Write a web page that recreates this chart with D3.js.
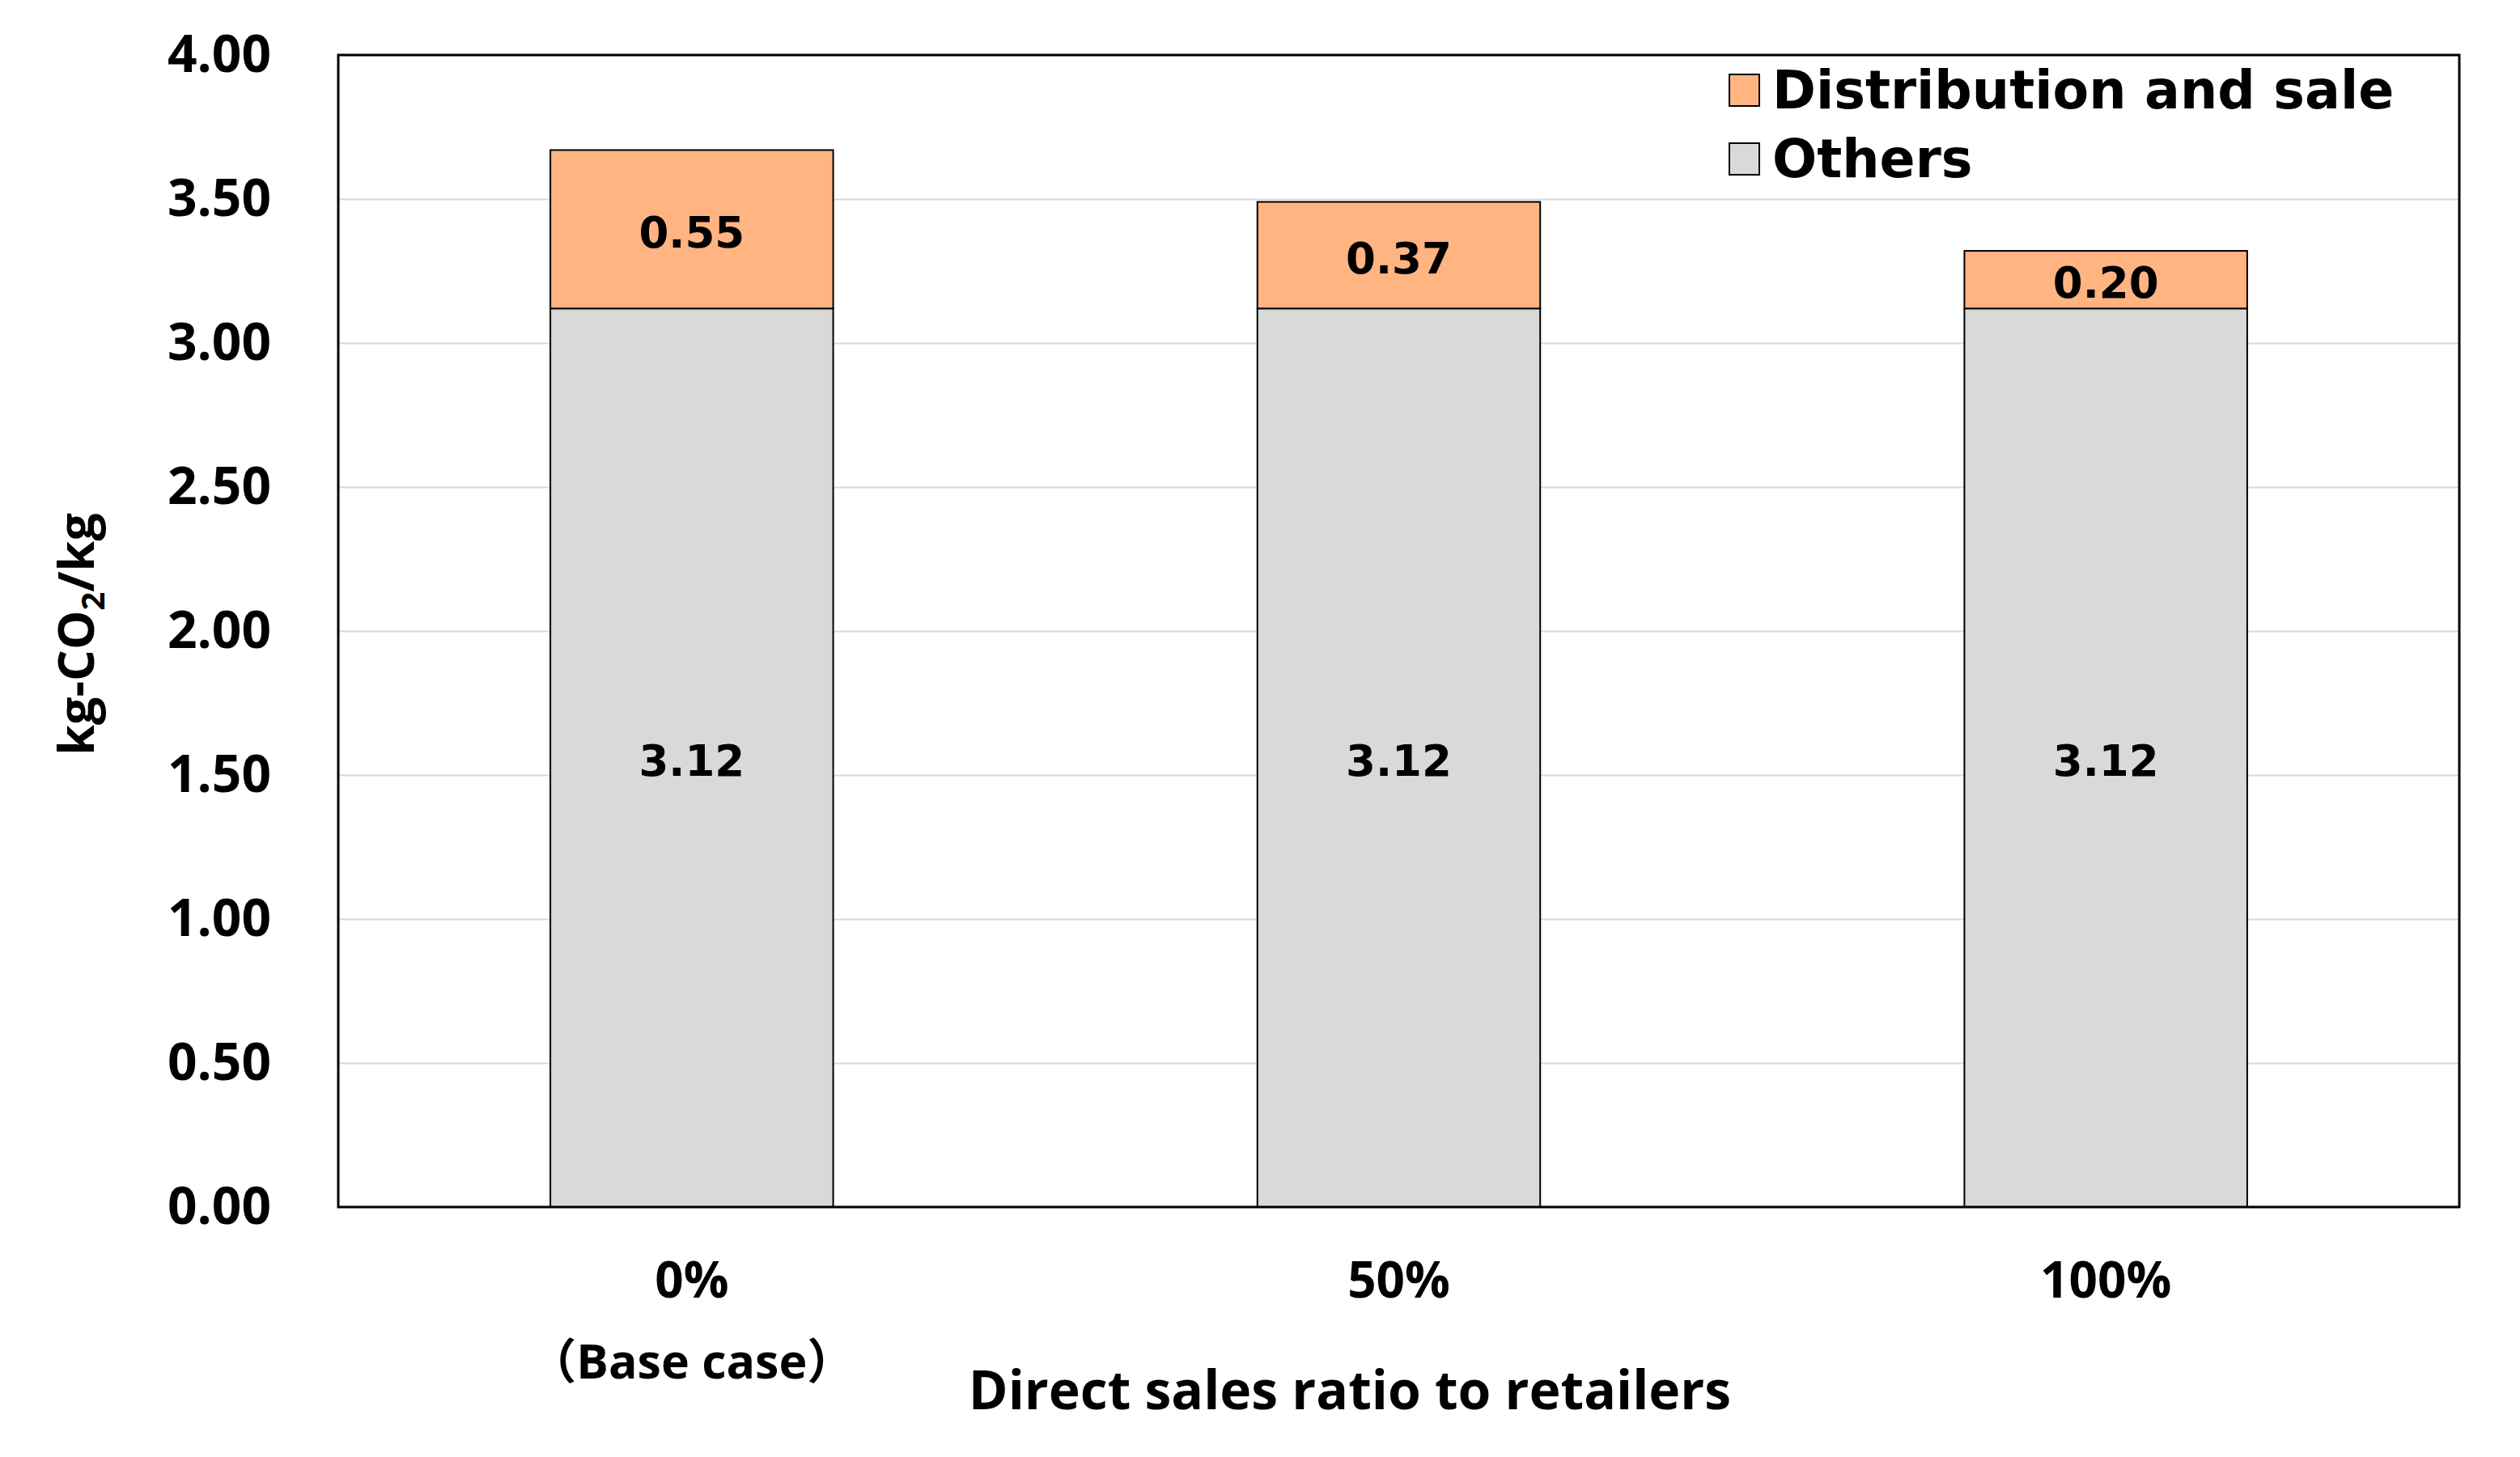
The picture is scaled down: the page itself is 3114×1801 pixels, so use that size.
<!DOCTYPE html>
<html>
<head>
<meta charset="utf-8">
<script src="https://cdn.jsdelivr.net/npm/d3@7"></script>
<style>
  html, body { margin: 0; padding: 0; background: #ffffff; }
  svg { display: block; }
</style>
</head>
<body>
<svg id="chart" width="3114" height="1801"></svg>
<script>
// ---- data ----
const categories = ["0%", "50%", "100%"];
const subLabels = ["（Base case）", "", ""];
const others = [3.12, 3.12, 3.12];
const distribution = [0.55, 0.37, 0.20];
const seriesNames = ["Distribution and sale", "Others"];
const yTicks = [0, 0.5, 1.0, 1.5, 2.0, 2.5, 3.0, 3.5, 4.0];
const xTitle = "Direct sales ratio to retailers";

// ---- layout ----
const W = 3114, H = 1801;
const plot = { left: 418, right: 3039, top: 68, bottom: 1492 };
const colors = { dist: "#FFB482", others: "#D9D9D9" };
const svg = d3.select("#chart");

const x = d3.scaleBand().domain(categories).range([plot.left, plot.right]).paddingInner(0.6).paddingOuter(0.3);
const y = d3.scaleLinear().domain([0, 4]).range([plot.bottom, plot.top]);

// gridlines
svg.append("g")
  .attr("transform", `translate(${plot.left},0)`)
  .call(d3.axisLeft(y).tickValues(yTicks).tickSize(-(plot.right - plot.left)).tickFormat(""))
  .call(g => g.select(".domain").remove())
  .call(g => g.selectAll("line").attr("stroke", "#D9D9D9").attr("stroke-width", 2));

// stacked data
const stackData = categories.map((c, i) => ({ cat: c, others: others[i], dist: distribution[i] }));
const stack = d3.stack().keys(["others", "dist"])(stackData);

const layers = svg.append("g").selectAll("g").data(stack).join("g")
  .attr("fill", d => colors[d.key]);
layers.selectAll("rect").data(d => d).join("rect")
  .attr("x", d => x(d.data.cat))
  .attr("width", x.bandwidth())
  .attr("y", d => y(d[1]))
  .attr("height", d => y(d[0]) - y(d[1]))
  .attr("stroke", "#000")
  .attr("stroke-width", 2);

// value labels
stack.forEach(layer => {
  svg.append("g").selectAll("text").data(layer).join("text")
    .attr("x", d => x(d.data.cat) + x.bandwidth() / 2)
    .attr("y", d => (y(d[0]) + y(d[1])) / 2)
    .attr("dy", "0.42em")
    .attr("text-anchor", "middle")
    .attr("font-family", "'DejaVu Sans', Verdana, sans-serif")
    .attr("font-weight", "bold")
    .attr("font-size", 53)
    .attr("fill", "#000")
    .text(d => (d[1] - d[0]).toFixed(2));
});

// plot frame
svg.append("rect")
  .attr("x", plot.left).attr("y", plot.top)
  .attr("width", plot.right - plot.left).attr("height", plot.bottom - plot.top)
  .attr("fill", "none").attr("stroke", "#000").attr("stroke-width", 3);

// y axis labels
svg.append("g")
  .attr("transform", `translate(${plot.left},0)`)
  .call(d3.axisLeft(y).tickValues(yTicks).tickSize(0).tickPadding(83).tickFormat(d3.format(".2f")))
  .call(g => g.select(".domain").remove())
  .call(g => g.selectAll("text")
    .attr("font-family", "'Open Sans', sans-serif")
    .attr("font-weight", "bold")
    .attr("font-size", 64)
    .attr("fill", "#000"));

// x axis labels
svg.append("g")
  .attr("transform", `translate(0,${plot.bottom})`)
  .call(d3.axisBottom(x).tickSize(0).tickPadding(68))
  .call(g => g.select(".domain").remove())
  .call(g => g.selectAll("text")
    .attr("font-family", "'Open Sans', sans-serif")
    .attr("font-weight", "bold")
    .attr("font-size", 62)
    .attr("fill", "#000"));

// sub labels (Base case)
svg.append("g").selectAll("text").data(categories).join("text")
  .attr("x", d => x(d) + x.bandwidth() / 2)
  .attr("y", 1704)
  .attr("text-anchor", "middle")
  .attr("font-family", "'Open Sans', 'Noto Sans CJK JP', sans-serif")
  .attr("font-weight", "bold")
  .attr("font-size", 59)
  .attr("fill", "#000")
  .text((d, i) => subLabels[i]);

// x title
svg.append("text")
  .attr("x", 1668).attr("y", 1742)
  .attr("text-anchor", "middle")
  .attr("font-family", "'Open Sans', sans-serif")
  .attr("font-weight", "bold")
  .attr("font-size", 66)
  .attr("fill", "#000")
  .text(xTitle);

// y title
const yt = svg.append("text")
  .attr("transform", "translate(116,784) rotate(-90)")
  .attr("text-anchor", "middle")
  .attr("font-family", "'Open Sans', sans-serif")
  .attr("font-weight", "bold")
  .attr("font-size", 61)
  .attr("fill", "#000");
yt.append("tspan").text("kg-CO");
yt.append("tspan").attr("font-size", 40).attr("dy", 13).text("2");
yt.append("tspan").attr("dy", -13).text("/kg");

// legend
const legendItems = [
  { name: seriesNames[0], color: colors.dist, y: 92 },
  { name: seriesNames[1], color: colors.others, y: 177 }
];
const lg = svg.append("g").selectAll("g").data(legendItems).join("g");
lg.append("rect")
  .attr("x", 2137).attr("y", d => d.y)
  .attr("width", 37).attr("height", 39)
  .attr("fill", d => d.color).attr("stroke", "#000").attr("stroke-width", 2);
lg.append("text")
  .attr("x", 2190).attr("y", d => d.y + 42)
  .attr("font-family", "'DejaVu Sans', Verdana, sans-serif")
  .attr("font-weight", "bold")
  .attr("font-size", 65)
  .attr("fill", "#000")
  .text(d => d.name);
</script>
</body>
</html>
